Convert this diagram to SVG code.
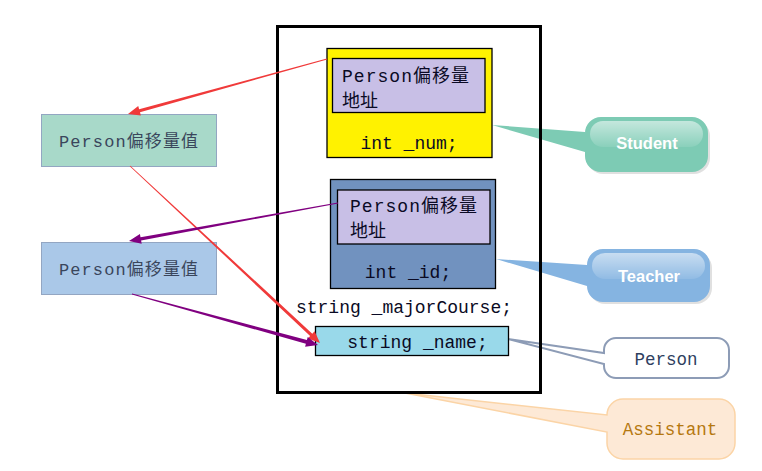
<svg xmlns="http://www.w3.org/2000/svg" width="762" height="471" viewBox="0 0 762 471">
<defs>
<linearGradient id="gloss" x1="0" y1="0" x2="0" y2="1">
<stop offset="0" stop-color="#fff" stop-opacity="0.55"/>
<stop offset="1" stop-color="#fff" stop-opacity="0.1"/>
</linearGradient>
</defs>
<style>
.code{font-family:"Liberation Mono","Noto Sans CJK SC",monospace;font-size:18px;fill:#0a0a24}
.left{font-family:"Liberation Mono","Noto Sans CJK SC",monospace;font-size:17px;fill:#3a465c}
.tag{font-family:"Liberation Sans",Arial,sans-serif;font-size:16.5px;font-weight:bold;fill:#fff;text-anchor:middle}
.mono{font-family:"Liberation Mono",monospace;font-size:17.5px;text-anchor:middle}
.box{stroke:#000;stroke-width:1.3}
</style>
<rect width="762" height="471" fill="#fff"/>

<g id="callout-student">
<path d="M 603,120 H 694 A 16 16 0 0 1 710,136 V 158 A 16 16 0 0 1 694,174 H 603 A 16 16 0 0 1 587,158 Z" fill="#000" opacity="0.12"/>
<path d="M 601,117 H 692 A 16 16 0 0 1 708,133 V 156 A 16 16 0 0 1 692,172 H 601 A 16 16 0 0 1 585,156 V 152 L 492,125 L 585,132 V 133 A 16 16 0 0 1 601,117 Z" fill="#7dcbb4"/>
<rect x="590" y="121" width="113" height="26" rx="13" fill="url(#gloss)"/>
<text class="tag" x="647" y="149">Student</text>
</g>

<g id="callout-teacher">
<path d="M 605,252 H 696 A 16 16 0 0 1 712,268 V 288 A 16 16 0 0 1 696,304 H 605 A 16 16 0 0 1 589,288 Z" fill="#000" opacity="0.12"/>
<path d="M 603,249 H 694 A 16 16 0 0 1 710,265 V 286 A 16 16 0 0 1 694,302 H 603 A 16 16 0 0 1 587,286 L 496,259 L 587,265 A 16 16 0 0 1 603,249 Z" fill="#85b4e1"/>
<rect x="592" y="253" width="113" height="26" rx="13" fill="url(#gloss)"/>
<text class="tag" x="649" y="282">Teacher</text>
</g>

<g id="callout-person">
<path d="M 616,338 H 717 A 12 12 0 0 1 729,350 V 366 A 12 12 0 0 1 717,378 H 616 A 12 12 0 0 1 604,366 V 364 L 508,339 L 604,353 V 350 A 12 12 0 0 1 616,338 Z" fill="#fff" stroke="#8d9cb6" stroke-width="2"/>
<text class="mono" x="666" y="365" fill="#2f3f5f">Person</text>
</g>

<g id="callout-assistant">
<path d="M 623,399 H 719 A 16 16 0 0 1 735,415 V 443 A 16 16 0 0 1 719,459 H 623 A 16 16 0 0 1 607,443 V 432 L 405,393 L 607,415 A 16 16 0 0 1 623,399 Z" fill="#fde9d6" stroke="#fbd4a6" stroke-width="1.5"/>
<text class="mono" x="670" y="435" fill="#b5780f">Assistant</text>
</g>

<g id="object">
<rect x="277.5" y="26.5" width="263" height="366" fill="none" stroke="#000" stroke-width="3"/>
</g>

<g id="student-part">
<rect class="box" x="327" y="48.5" width="165" height="109" fill="#fff200"/>
<rect class="box" x="332.5" y="58.5" width="152.5" height="54" fill="#c8bfe6"/>
<text class="code" x="342" y="82" textLength="127" lengthAdjust="spacing">Person偏移量</text>
<text class="code" x="342" y="107">地址</text>
<text class="code" x="409" y="149" text-anchor="middle">int _num;</text>
</g>

<g id="teacher-part">
<rect class="box" x="330.5" y="179.5" width="165" height="109" fill="#7192bf"/>
<rect class="box" x="337.5" y="190" width="152.5" height="54" fill="#c8bfe6"/>
<text class="code" x="350" y="212" textLength="127" lengthAdjust="spacing">Person偏移量</text>
<text class="code" x="350" y="237">地址</text>
<text class="code" x="408" y="278" text-anchor="middle">int _id;</text>
</g>

<g id="assistant-part">
<text class="code" x="404" y="313" text-anchor="middle">string _majorCourse;</text>
</g>

<g id="person-part">
<rect class="box" x="315.5" y="326.5" width="193" height="29" fill="#99d9ea"/>
<text class="code" x="417.5" y="348" text-anchor="middle">string _name;</text>
</g>

<g id="offset-student">
<rect x="41.5" y="114.5" width="175" height="52" fill="#a8d9c9" stroke="#93a6c2" stroke-width="1"/>
<text class="left" x="59" y="147" textLength="139" lengthAdjust="spacing">Person偏移量值</text>
</g>

<g id="offset-teacher">
<rect x="41.5" y="242.5" width="175" height="52" fill="#aac8e8" stroke="#93a6c2" stroke-width="1"/>
<text class="left" x="59" y="275" textLength="139" lengthAdjust="spacing">Person偏移量值</text>
</g>

<g id="connectors">
<polygon fill="#f03a3a" points="326.89,58.61 139.13,109.26 138.23,105.98 128,114 140.89,115.62 139.99,112.34 327.11,59.39"/>
<polygon fill="#f03a3a" points="129.73,166.29 310.13,335.99 307.81,338.48 320,343 314.63,331.16 312.31,333.65 130.27,165.71"/>
<polygon fill="#800080" points="337.93,202.61 140.52,237.28 139.92,233.93 129,241 141.70,243.77 141.10,240.42 338.07,203.39"/>
<polygon fill="#800080" points="131.89,294.39 305.9,343.8 305.11,346.65 318,345 307.75,337.01 306.9,339.9 132.11,293.61"/>
</g>
</svg>
